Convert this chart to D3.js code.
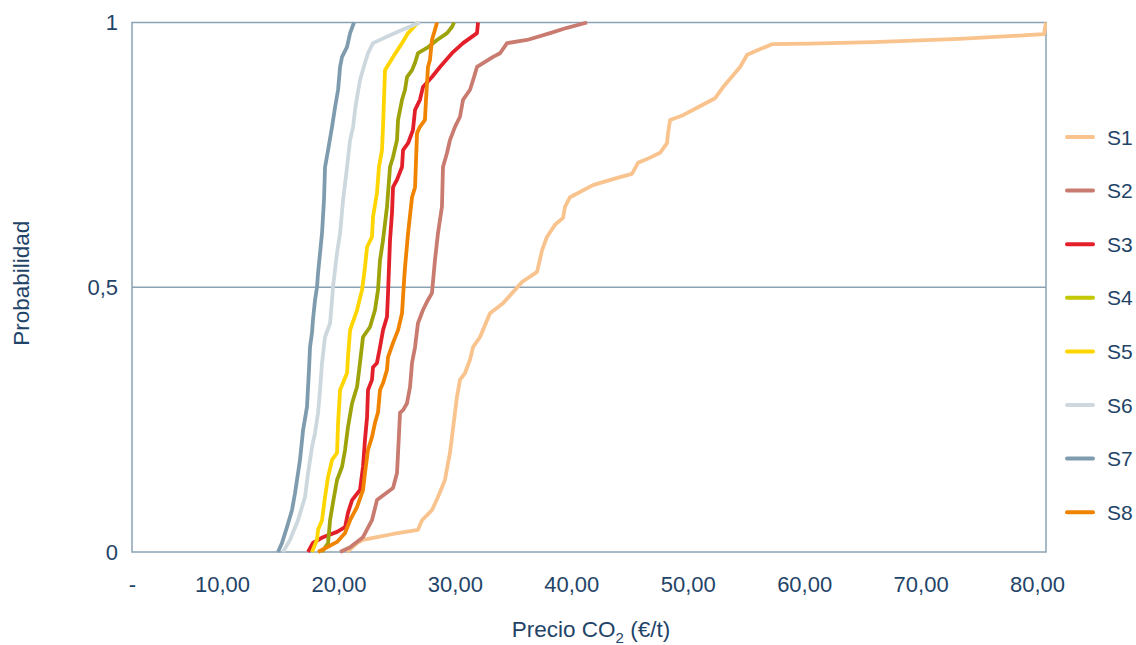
<!DOCTYPE html>
<html>
<head>
<meta charset="utf-8">
<script src="https://cdn.jsdelivr.net/npm/d3@7"></script>
<style>
  html, body { margin: 0; padding: 0; background: #ffffff; }
  svg { display: block; }
  text { font-family: "Liberation Sans", Arial, sans-serif; fill: #1f4468; }
</style>
</head>
<body>
<svg id="chart" width="1136" height="645"></svg>
<script>
// ---------- data (price €/t, cumulative probability) ----------
const seriesNames = ["S1", "S2", "S3", "S4", "S5", "S6", "S7", "S8"];
const seriesColors = ["#f9c38e", "#c97b70", "#e3202a", "#9fa30a", "#ffd500", "#cdd8de", "#7f9cae", "#f08300"];

const s1 = [[20.74,0],[21.60,0.017],[22.11,0.023],[23.31,0.028],[24.69,0.034],[26.83,0.042],[27.18,0.060],[28.03,0.079],[28.55,0.104],[29.15,0.136],[29.41,0.168],[29.58,0.187],[29.75,0.217],[30.01,0.263],[30.18,0.293],[30.44,0.325],[30.87,0.338],[31.30,0.363],[31.56,0.387],[32.16,0.406],[33.02,0.451],[34.14,0.470],[35.17,0.495],[35.77,0.510],[37.06,0.529],[37.49,0.570],[37.91,0.595],[38.60,0.618],[39.29,0.631],[39.46,0.652],[39.89,0.670],[41.86,0.693],[43.07,0.701],[44.18,0.708],[45.21,0.714],[45.73,0.735],[46.50,0.742],[47.62,0.754],[48.22,0.772],[48.31,0.791],[48.48,0.816],[49.60,0.825],[50.80,0.839],[52.35,0.857],[53.04,0.878],[54.50,0.916],[55.10,0.939],[56.04,0.948],[57.24,0.959],[60.42,0.960],[65.92,0.963],[73.31,0.969],[79.14,0.976],[80.60,0.978],[80.77,1]];
const s2 = [[20.14,0],[21.00,0.009],[22.11,0.028],[22.88,0.060],[23.31,0.098],[24.69,0.121],[25.03,0.149],[25.12,0.187],[25.29,0.263],[25.55,0.268],[25.89,0.281],[26.15,0.312],[26.32,0.357],[26.58,0.387],[26.83,0.432],[27.26,0.457],[27.69,0.476],[28.03,0.489],[28.29,0.551],[28.55,0.602],[28.89,0.652],[28.98,0.727],[29.33,0.754],[29.58,0.778],[30.01,0.803],[30.44,0.822],[30.70,0.854],[31.30,0.873],[31.56,0.891],[31.90,0.916],[33.28,0.935],[33.88,0.942],[34.48,0.961],[36.20,0.967],[38.18,0.980],[39.63,0.990],[41.35,1]];
const s3 = [[17.39,0],[17.81,0.017],[18.67,0.028],[19.88,0.038],[20.57,0.047],[20.82,0.074],[21.17,0.098],[21.85,0.117],[22.11,0.161],[22.28,0.212],[22.46,0.255],[22.54,0.306],[22.88,0.325],[22.97,0.349],[23.31,0.357],[23.57,0.387],[23.83,0.419],[24.17,0.444],[24.26,0.489],[24.43,0.589],[24.60,0.640],[24.69,0.689],[25.03,0.703],[25.46,0.727],[25.55,0.759],[25.98,0.772],[26.40,0.797],[26.58,0.835],[27.00,0.854],[27.26,0.878],[28.03,0.897],[28.72,0.916],[29.75,0.942],[30.70,0.961],[31.90,0.980],[31.99,1]];
const s4 = [[18.59,0],[19.11,0.017],[19.28,0.060],[19.53,0.093],[19.88,0.136],[20.31,0.161],[20.57,0.193],[20.82,0.236],[21.17,0.281],[21.60,0.312],[21.85,0.357],[22.11,0.406],[22.71,0.425],[23.14,0.457],[23.40,0.495],[23.57,0.551],[23.83,0.589],[24.17,0.652],[24.43,0.727],[24.69,0.746],[25.03,0.778],[25.12,0.816],[25.46,0.854],[25.72,0.873],[25.89,0.897],[26.32,0.910],[26.58,0.924],[26.83,0.942],[27.61,0.952],[28.47,0.967],[29.33,0.980],[29.76,0.992],[29.93,1]];
const s5 = [[17.73,0],[18.16,0.023],[18.25,0.042],[18.59,0.060],[18.85,0.104],[19.11,0.142],[19.45,0.174],[19.88,0.187],[19.97,0.244],[20.14,0.306],[20.74,0.338],[20.82,0.368],[21.00,0.419],[21.60,0.457],[22.03,0.495],[22.28,0.538],[22.46,0.576],[22.88,0.595],[22.97,0.633],[23.31,0.678],[23.48,0.727],[23.74,0.759],[23.83,0.803],[24.00,0.910],[24.69,0.935],[25.46,0.961],[25.98,0.980],[26.83,1]];
const s6 = [[15.24,0],[15.84,0.023],[16.53,0.060],[17.13,0.104],[17.39,0.149],[17.73,0.198],[17.99,0.225],[18.25,0.263],[18.42,0.306],[18.59,0.357],[18.85,0.406],[19.28,0.432],[19.45,0.476],[19.53,0.500],[19.88,0.565],[20.14,0.602],[20.40,0.665],[20.74,0.727],[21.00,0.778],[21.26,0.803],[21.43,0.835],[21.60,0.859],[21.85,0.891],[22.28,0.924],[22.54,0.942],[22.97,0.961],[24.43,0.976],[25.89,0.990],[27.00,1]];
const s7 = [[14.81,0],[15.15,0.017],[15.58,0.047],[16.01,0.079],[16.27,0.111],[16.70,0.174],[16.96,0.230],[17.30,0.274],[17.47,0.344],[17.56,0.387],[17.73,0.414],[17.81,0.438],[17.99,0.476],[18.16,0.500],[18.25,0.527],[18.59,0.602],[18.76,0.665],[18.85,0.727],[19.11,0.759],[19.45,0.803],[19.71,0.840],[19.97,0.873],[20.14,0.916],[20.31,0.935],[20.74,0.954],[21.00,0.980],[21.34,1]];
const s8 = [[18.25,0],[19.02,0.009],[19.88,0.019],[20.57,0.036],[21.00,0.060],[21.60,0.085],[22.11,0.117],[22.28,0.149],[22.54,0.193],[22.88,0.217],[23.14,0.244],[23.40,0.264],[23.57,0.306],[23.83,0.319],[24.17,0.344],[24.26,0.368],[24.69,0.395],[25.12,0.419],[25.46,0.451],[25.55,0.482],[25.64,0.514],[25.72,0.538],[25.98,0.602],[26.32,0.670],[26.58,0.689],[26.75,0.791],[27.00,0.803],[27.43,0.816],[27.52,0.854],[27.61,0.886],[27.69,0.916],[27.86,0.929],[28.03,0.967],[28.29,0.986],[28.47,1]];
const allSeries = [s1, s2, s3, s4, s5, s6, s7, s8];

const xMin = 2.27, xMax = 80.77;
const xTickValues = [xMin, 10, 20, 30, 40, 50, 60, 70, 80];
const yTickValues = [0, 0.5, 1];
const yTickLabels = ["0", "0,5", "1"];
const xTitle = "Precio CO";
const xTitleSub = "2";
const xTitleEnd = " (€/t)";
const yTitle = "Probabilidad";

// ---------- layout ----------
const svg = d3.select("#chart");
const margin = { left: 132, right: 90, top: 22.5, bottom: 93 };
const W = 1136, H = 645;
const plotW = W - margin.left - margin.right;
const plotH = H - margin.top - margin.bottom;
const gridColor = "#8aa3b4";
const textColor = "#1f4468";
const fontFam = '"Liberation Sans", Arial, sans-serif';

const x = d3.scaleLinear().domain([xMin, xMax]).range([margin.left, margin.left + plotW]);
const y = d3.scaleLinear().domain([0, 1]).range([margin.top + plotH, margin.top]);

const loc = d3.formatLocale({ decimal: ",", thousands: ".", grouping: [3], currency: ["", "€"] });
const fmt2 = loc.format(".2f");

// frame and gridline
svg.append("rect")
  .attr("x", x(xMin)).attr("y", y(1))
  .attr("width", x(xMax) - x(xMin)).attr("height", y(0) - y(1))
  .attr("fill", "none").attr("stroke", gridColor).attr("stroke-width", 1.5);
svg.append("line")
  .attr("x1", x(xMin)).attr("x2", x(xMax))
  .attr("y1", y(0.5)).attr("y2", y(0.5))
  .attr("stroke", gridColor).attr("stroke-width", 1.5);

// axes
const xAxis = d3.axisBottom(x).tickValues(xTickValues).tickSize(0).tickPadding(24)
  .tickFormat(d => d === xMin ? "-" : fmt2(d));
const gx = svg.append("g").attr("transform", `translate(0,${y(0)})`).call(xAxis);
gx.select(".domain").remove();
gx.selectAll("text").attr("font-size", 22).attr("fill", textColor).style("font-family", fontFam);

const yAxis = d3.axisLeft(y).tickValues(yTickValues).tickSize(0).tickPadding(14)
  .tickFormat((d, i) => yTickLabels[i]);
const gy = svg.append("g").attr("transform", `translate(${x(xMin)},0)`).call(yAxis);
gy.select(".domain").remove();
gy.selectAll("text").attr("font-size", 22).attr("fill", textColor).style("font-family", fontFam);

// titles
const xt = svg.append("text")
  .attr("x", margin.left + plotW / 2 + 2).attr("y", 637)
  .attr("text-anchor", "middle").attr("font-size", 22.5);
xt.append("tspan").text(xTitle);
xt.append("tspan").text(xTitleSub).attr("font-size", 15).attr("dy", 6);
xt.append("tspan").text(xTitleEnd).attr("dy", -6);

svg.append("text")
  .attr("transform", `translate(29,${margin.top + plotH / 2 - 4}) rotate(-90)`)
  .attr("text-anchor", "middle").attr("font-size", 22.5)
  .text(yTitle);

// clip
svg.append("clipPath").attr("id", "plotclip").append("rect")
  .attr("x", x(xMin)).attr("y", y(1) - 3)
  .attr("width", x(xMax) - x(xMin) + 1).attr("height", y(0) - y(1) + 6);

const line = d3.line().x(d => x(d[0])).y(d => y(d[1]));
svg.append("g").attr("clip-path", "url(#plotclip)")
  .selectAll("path").data(allSeries).join("path")
  .attr("d", line)
  .attr("fill", "none")
  .attr("stroke", (d, i) => seriesColors[i])
  .attr("stroke-width", 3.8)
  .attr("stroke-linejoin", "round")
  .attr("stroke-linecap", "butt");

// legend
const legend = svg.append("g");
const legRows = legend.selectAll("g").data(seriesNames).join("g")
  .attr("transform", (d, i) => `translate(1067,${137 + i * 53.6})`);
legRows.append("line")
  .attr("x1", 0).attr("x2", 26).attr("y1", 0).attr("y2", 0)
  .attr("stroke", (d, i) => seriesColors[i] === "#9fa30a" ? "#c4c800" : seriesColors[i])
  .attr("stroke-width", 4).attr("stroke-linecap", "round");
legRows.append("text")
  .attr("x", 40).attr("y", 0).attr("dy", "0.36em")
  .attr("font-size", 21)
  .text(d => d);
</script>
</body>
</html>
